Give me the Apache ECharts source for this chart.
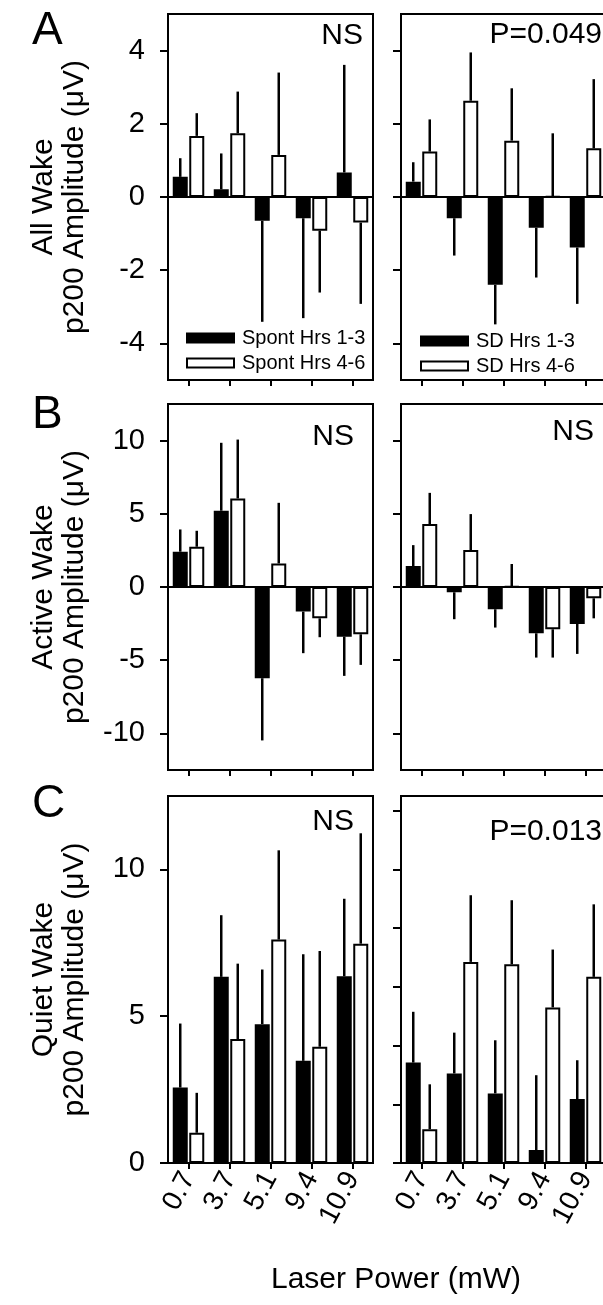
<!DOCTYPE html>
<html><head><meta charset="utf-8">
<script src="https://cdn.jsdelivr.net/npm/echarts@6/dist/echarts.min.js"></script>
<style>html,body{margin:0;padding:0;background:#fff;overflow:hidden}#c{width:603px;height:1305px}</style>
</head><body><div id="c"></div>
<script>
// ---------- data ----------
const categories = ['0.7', '3.7', '5.1', '9.4', '10.9'];

// Panel A: All Wake
const A_spont13    = [0.55, 0.21, -0.65, -0.58, 0.67];
const A_spont13_se = [0.51, 0.98, 2.76, 2.73, 2.94];
const A_spont46    = [1.67, 1.74, 1.15, -0.92, -0.70];
const A_spont46_se = [0.62, 1.14, 2.25, 1.69, 2.22];
const A_sd13       = [0.42, -0.58, -2.40, -0.84, -1.38];
const A_sd13_se    = [0.53, 1.02, 1.08, 1.36, 1.54];
const A_sd46       = [1.24, 2.63, 1.54, 0.02, 1.33];
const A_sd46_se    = [0.88, 1.32, 1.43, 1.72, 1.89];

// Panel B: Active Wake
const B_spont13    = [2.41, 5.21, -6.23, -1.68, -3.39];
const B_spont13_se = [1.52, 4.64, 4.25, 2.84, 2.68];
const B_spont46    = [2.75, 6.05, 1.61, -2.14, -3.23];
const B_spont46_se = [1.09, 4.02, 4.14, 1.29, 2.09];
const B_sd13       = [1.43, -0.36, -1.52, -3.16, -2.52];
const B_sd13_se    = [1.43, 1.84, 1.25, 1.66, 2.05];
const B_sd46       = [4.30, 2.52, 0.05, -2.89, -0.77];
const B_sd46_se    = [2.13, 2.46, 1.52, 1.93, 1.37];

// Panel C: Quiet Wake
const C_spont13    = [2.57, 6.34, 4.73, 3.48, 6.36];
const C_spont13_se = [2.18, 2.10, 1.86, 3.63, 2.64];
const C_spont46    = [1.03, 4.22, 7.61, 3.96, 7.47];
const C_spont46_se = [1.36, 2.57, 3.04, 3.26, 3.76];
const C_sd13       = [3.42, 3.05, 2.37, 0.44, 2.18];
const C_sd13_se    = [1.73, 1.39, 1.81, 2.55, 1.32];
const C_sd46       = [1.15, 6.85, 6.77, 5.30, 6.34];
const C_sd46_se    = [1.53, 2.27, 2.18, 1.97, 2.47];

// tick values
const A_ticks = [-4, -2, 0, 2, 4];
const B_ticks = [-10, -5, 0, 5, 10];
const C_ticks_left = [0, 5, 10];
const C_ticks_right = [0, 2, 4, 6, 8, 10, 12];

const seriesNames = ['Spont Hrs 1-3', 'Spont Hrs 4-6', 'SD Hrs 1-3', 'SD Hrs 4-6'];
const stats = ['NS', 'P=0.049', 'NS', 'NS', 'NS', 'P=0.013'];
const rowTitles = ['All Wake\np200 Amplitude (μV)', 'Active Wake\np200 Amplitude (μV)', 'Quiet Wake\np200 Amplitude (μV)'];
const xTitle = 'Laser Power (mW)';

// ---------- layout ----------
const FONT = '"Liberation Sans", Arial, Helvetica, sans-serif';
const BAR_W = 15, GAP = 0.1, OFF = BAR_W * (1 + GAP) / 2;
const cols = [{left: 168, width: 205}, {left: 401, width: 205}];
const rows = [{top: 14, height: 366, min: -5, max: 5}, {top: 404, height: 366, min: -12.5, max: 12.5}, {top: 796, height: 367, min: 0, max: 12.5}];

const panels = [
  {r: 0, c: 0, ticks: A_ticks, d: [A_spont13, A_spont46], e: [A_spont13_se, A_spont46_se], names: [seriesNames[0], seriesNames[1]]},
  {r: 0, c: 1, ticks: A_ticks, d: [A_sd13, A_sd46], e: [A_sd13_se, A_sd46_se], names: [seriesNames[2], seriesNames[3]]},
  {r: 1, c: 0, ticks: B_ticks, d: [B_spont13, B_spont46], e: [B_spont13_se, B_spont46_se], names: [seriesNames[0], seriesNames[1]]},
  {r: 1, c: 1, ticks: B_ticks, d: [B_sd13, B_sd46], e: [B_sd13_se, B_sd46_se], names: [seriesNames[2], seriesNames[3]]},
  {r: 2, c: 0, ticks: C_ticks_left, d: [C_spont13, C_spont46], e: [C_spont13_se, C_spont46_se], names: [seriesNames[0], seriesNames[1]]},
  {r: 2, c: 1, ticks: C_ticks_right, d: [C_sd13, C_sd46], e: [C_sd13_se, C_sd46_se], names: [seriesNames[2], seriesNames[3]]}
];

const blk = {color: '#000', width: 2};
const grid = [], xAxis = [], yAxis = [], series = [];

panels.forEach((p, i) => {
  const row = rows[p.r], col = cols[p.c];
  grid.push({left: col.left, width: col.width, top: row.top, height: row.height,
    outerBoundsMode: 'none', containLabel: false,
    show: true, borderColor: '#000', borderWidth: 2, backgroundColor: 'transparent'});
  xAxis.push({type: 'category', gridIndex: i, data: categories, boundaryGap: true,
    axisLine: {show: true, onZero: false, lineStyle: blk},
    axisTick: {show: true, alignWithLabel: true, length: 6, lineStyle: blk},
    axisLabel: {show: p.r === 2, rotate: 62, fontSize: 28, color: '#000', margin: 11, fontFamily: FONT, interval: 0},
    splitLine: {show: false}});
  yAxis.push({type: 'value', gridIndex: i, min: row.min, max: row.max,
    axisLine: {show: true, onZero: false, lineStyle: blk},
    axisTick: {show: true, length: 8, customValues: p.ticks, lineStyle: blk},
    axisLabel: {show: p.c === 0, customValues: p.ticks, fontSize: 29, color: '#000', margin: 23, fontFamily: FONT},
    splitLine: {show: false},
    name: p.c === 0 ? rowTitles[p.r] : '', nameLocation: 'middle', nameGap: 78,
    nameTextStyle: {fontSize: 30, lineHeight: 31, color: '#000', fontFamily: FONT}});
  const fills = ['#000', '#fff'];
  [0, 1].forEach(k => {
    const s = {type: 'bar', name: p.names[k], xAxisIndex: i, yAxisIndex: i, data: p.d[k],
      barWidth: BAR_W, barGap: (GAP * 100) + '%',
      itemStyle: {color: fills[k], borderColor: '#000', borderWidth: 2},
      emphasis: {disabled: true}, silent: true, z: 2};
    if (k === 0 && p.r < 2) {
      s.markLine = {silent: true, symbol: 'none', label: {show: false},
        lineStyle: {color: '#000', width: 2, type: 'solid'}, data: [{yAxis: 0}], z: 3};
    }
    series.push(s);
  });
  const errData = [];
  [0, 1].forEach(k => p.d[k].forEach((v, j) => errData.push([j, v, p.e[k][j], k === 0 ? -1 : 1])));
  series.push({type: 'custom', xAxisIndex: i, yAxisIndex: i, data: errData, silent: true, z: 4,
    renderItem: (params, api) => {
      const cat = api.value(0), m = api.value(1), se = api.value(2), side = api.value(3);
      const dir = m >= 0 ? 1 : -1;
      const x = api.coord([cat, m])[0] + side * OFF;
      const y1 = api.coord([cat, m])[1];
      const y2 = api.coord([cat, m + dir * se])[1];
      return {type: 'line', shape: {x1: x, y1: y1, x2: x, y2: y2},
        style: {stroke: '#000', lineWidth: 2.5}};
    }});
});

const legendCommon = {orient: 'vertical', itemWidth: 47, itemHeight: 9, itemGap: 5, icon: 'rect',
  selectedMode: false, textStyle: {fontSize: 20, color: '#000', fontFamily: FONT, padding: [0, 0, 0, 3]}};

const option = {
  animation: false,
  backgroundColor: '#fff',
  textStyle: {fontFamily: FONT},
  grid, xAxis, yAxis, series,
  legend: [
    Object.assign({}, legendCommon, {data: [seriesNames[0], seriesNames[1]], left: 181, top: 323}),
    Object.assign({}, legendCommon, {data: [seriesNames[2], seriesNames[3]], left: 415, top: 326})
  ],
  graphic: [
    {type: 'text', left: 32, top: 8, style: {text: 'A', fontSize: 46, fill: '#000', fontFamily: FONT}},
    {type: 'text', left: 32, top: 392, style: {text: 'B', fontSize: 46, fill: '#000', fontFamily: FONT}},
    {type: 'text', left: 32, top: 781, style: {text: 'C', fontSize: 46, fill: '#000', fontFamily: FONT}},
    {type: 'text', x: 363, y: 36, style: {text: stats[0], fontSize: 30, fill: '#000', fontFamily: FONT, align: 'right', verticalAlign: 'middle'}},
    {type: 'text', x: 602, y: 35, style: {text: stats[1], fontSize: 30, fill: '#000', fontFamily: FONT, align: 'right', verticalAlign: 'middle'}},
    {type: 'text', x: 354, y: 437, style: {text: stats[2], fontSize: 30, fill: '#000', fontFamily: FONT, align: 'right', verticalAlign: 'middle'}},
    {type: 'text', x: 594, y: 432, style: {text: stats[3], fontSize: 30, fill: '#000', fontFamily: FONT, align: 'right', verticalAlign: 'middle'}},
    {type: 'text', x: 354, y: 822, style: {text: stats[4], fontSize: 30, fill: '#000', fontFamily: FONT, align: 'right', verticalAlign: 'middle'}},
    {type: 'text', x: 602, y: 832, style: {text: stats[5], fontSize: 30, fill: '#000', fontFamily: FONT, align: 'right', verticalAlign: 'middle'}},
    {type: 'text', x: 396, y: 1280, style: {text: xTitle, fontSize: 30, fill: '#000', fontFamily: FONT, align: 'center', verticalAlign: 'middle'}}
  ]
};

const chart = echarts.init(document.getElementById('c'), null, {renderer: 'canvas'});
chart.setOption(option);
</script>
</body></html>
